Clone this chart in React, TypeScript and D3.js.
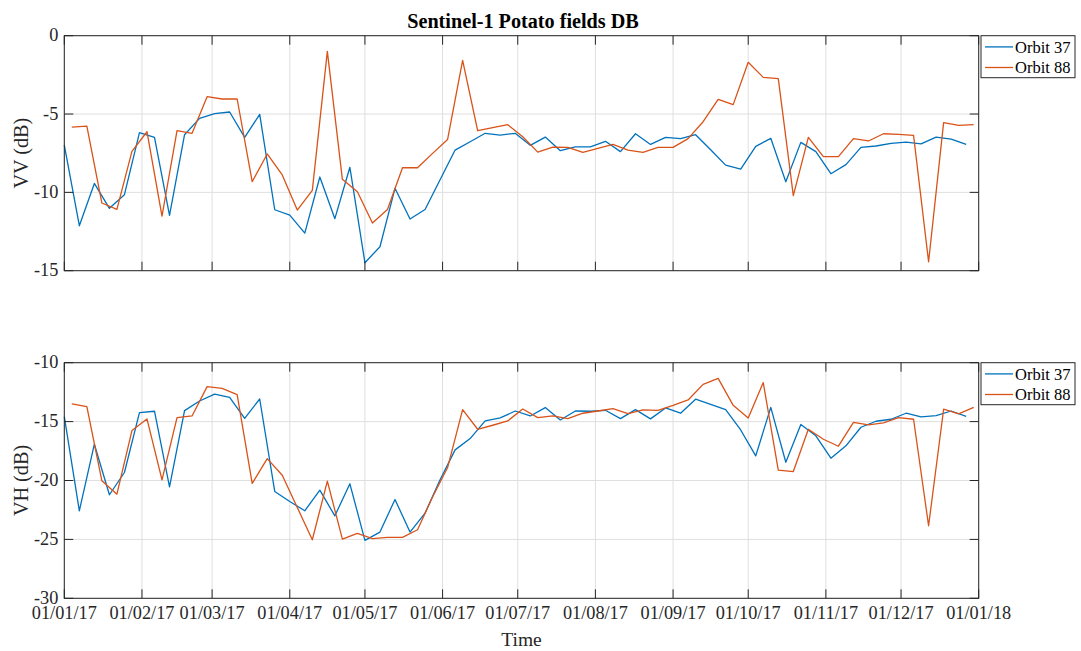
import { useRef, useEffect } from "react";
import * as d3 from "d3";

// time axis
const START = new Date(2017, 0, 1);
const END = new Date(2018, 0, 1);
const REVISIT = 6; // days between two passes
const FIRST_37 = new Date(2017, 0, 1);
const FIRST_88 = new Date(2017, 0, 4);

// VV backscatter (dB)
const vv37 = [
  -6.98, -12.13, -9.43, -11.02, -10.15, -6.19, -6.49, -11.47, -6.32, -5.28,
  -4.98, -4.87, -6.49, -5.02, -11.11, -11.45, -12.6, -9.02, -11.68, -8.4,
  -14.49, -13.47, -9.74, -11.7, -11.09, -9.19, -7.3, -6.77, -6.23, -6.34,
  -6.23, -7.0, -6.47, -7.34, -7.09, -7.09, -6.74, -7.4, -6.26, -6.94,
  -6.49, -6.57, -6.32, -7.28, -8.26, -8.51, -7.06, -6.55, -9.32, -6.81,
  -7.4, -8.81, -8.23, -7.13, -7.04, -6.87, -6.79, -6.91, -6.47, -6.6,
  -6.94,
];
const vv88 = [
  -5.83, -5.77, -10.68, -11.09, -7.38, -6.13, -11.51, -6.06, -6.23, -3.89,
  -4.04, -4.04, -9.32, -7.55, -8.89, -11.13, -9.87, -1.0, -9.17, -9.96,
  -11.96, -11.09, -8.43, -8.43, -7.51, -6.62, -1.57, -6.06, -5.87, -5.68,
  -6.45, -7.43, -7.11, -7.13, -7.45, -7.19, -6.94, -7.3, -7.45, -7.13,
  -7.13, -6.57, -5.49, -4.06, -4.4, -1.7, -2.66, -2.74, -10.21, -6.49,
  -7.72, -7.72, -6.57, -6.72, -6.26, -6.3, -6.36, -14.43, -5.55, -5.72,
  -5.68,
];

// VH backscatter (dB)
const vh37 = [
  -14.58, -22.57, -16.92, -21.21, -19.32, -14.24, -14.12, -20.54, -14.07, -13.25,
  -12.66, -12.94, -14.72, -13.08, -20.93, -21.78, -22.57, -20.82, -23.0, -20.28,
  -25.08, -24.38, -21.61, -24.38, -22.77, -19.94, -17.4, -16.44, -14.94, -14.69,
  -14.1, -14.52, -13.81, -14.86, -14.1, -14.12, -14.04, -14.75, -13.98, -14.77,
  -13.84, -14.29, -13.1, -13.53, -13.98, -15.71, -17.91, -13.79, -18.45, -15.25,
  -16.21, -18.11, -17.06, -15.48, -14.97, -14.8, -14.29, -14.6, -14.49, -14.1,
  -14.55,
];
const vh88 = [
  -13.5, -13.73, -20.03, -21.16, -15.76, -14.77, -19.94, -14.66, -14.52, -12.03,
  -12.18, -12.71, -20.25, -18.14, -19.55, -22.29, -25.03, -20.06, -24.97, -24.49,
  -24.94, -24.83, -24.83, -24.18, -21.4, -18.9, -13.98, -15.65, -15.31, -14.94,
  -13.93, -14.66, -14.52, -14.75, -14.29, -14.1, -13.9, -14.32, -14.01, -14.04,
  -13.62, -13.16, -11.84, -11.33, -13.62, -14.69, -11.69, -19.12, -19.24, -15.65,
  -16.5, -17.09, -15.06, -15.28, -15.11, -14.66, -14.8, -23.84, -13.95, -14.35,
  -13.79,
];

const names = ["Orbit 37", "Orbit 88"];
const colors = ["#0072BD", "#D95319"];
const vvTicks = [-15, -10, -5, 0];
const vhTicks = [-30, -25, -20, -15, -10];

const FONT = "'Liberation Serif', 'Times New Roman', serif";
const AXIS = "#262626";

const toPoints = (first, values) =>
  values.map((v, i) => [d3.timeDay.offset(first, i * REVISIT), v]);

const App = () => {
  const svgRef = useRef(null);

  useEffect(() => {
    const svg = d3.select(svgRef.current);
    svg.selectAll("*").remove();

    const left = 64.3;
    const right = 978.7;
    const x = d3.scaleTime().domain([START, END]).range([left, right]);
    const xTicks = d3.timeMonth.range(START, d3.timeDay.offset(END, 1));
    const fmt = d3.timeFormat("%d/%m/%y");

    const panels = [
      { top: 35.7, bottom: 270.7, domain: [-15, 0], ticks: vvTicks, label: "VV (dB)",
        series: [toPoints(FIRST_37, vv37), toPoints(FIRST_88, vv88)], xLabels: false },
      { top: 362.7, bottom: 598.3, domain: [-30, -10], ticks: vhTicks, label: "VH (dB)",
        series: [toPoints(FIRST_37, vh37), toPoints(FIRST_88, vh88)], xLabels: true },
    ];

    panels.forEach((p) => {
      const y = d3.scaleLinear().domain(p.domain).range([p.bottom, p.top]);
      const g = svg.append("g");

      g.append("rect")
        .attr("x", left).attr("y", p.top)
        .attr("width", right - left).attr("height", p.bottom - p.top)
        .attr("fill", "white");

      // grid
      g.selectAll(".gx").data(xTicks).join("line")
        .attr("x1", (d) => x(d)).attr("x2", (d) => x(d))
        .attr("y1", p.top).attr("y2", p.bottom)
        .attr("stroke", "#dfdfdf").attr("stroke-width", 1);
      g.selectAll(".gy").data(p.ticks).join("line")
        .attr("x1", left).attr("x2", right)
        .attr("y1", (d) => y(d)).attr("y2", (d) => y(d))
        .attr("stroke", "#dfdfdf").attr("stroke-width", 1);

      // data lines
      const line = d3.line()
        .x((d) => x(d[0]))
        .y((d) => y(d[1]));
      p.series.forEach((s, i) => {
        g.append("path")
          .datum(s)
          .attr("fill", "none")
          .attr("stroke", colors[i])
          .attr("stroke-width", 1.3)
          .attr("stroke-linejoin", "round")
          .attr("d", line);
      });

      // box + inward ticks
      g.append("rect")
        .attr("x", left).attr("y", p.top)
        .attr("width", right - left).attr("height", p.bottom - p.top)
        .attr("fill", "none").attr("stroke", AXIS).attr("stroke-width", 1);
      const tl = 9;
      xTicks.forEach((d) => {
        g.append("line").attr("x1", x(d)).attr("x2", x(d))
          .attr("y1", p.bottom).attr("y2", p.bottom - tl).attr("stroke", AXIS);
        g.append("line").attr("x1", x(d)).attr("x2", x(d))
          .attr("y1", p.top).attr("y2", p.top + tl).attr("stroke", AXIS);
      });
      p.ticks.forEach((d) => {
        g.append("line").attr("x1", left).attr("x2", left + tl)
          .attr("y1", y(d)).attr("y2", y(d)).attr("stroke", AXIS);
        g.append("line").attr("x1", right).attr("x2", right - tl)
          .attr("y1", y(d)).attr("y2", y(d)).attr("stroke", AXIS);
      });

      // tick labels
      g.selectAll(".yl").data(p.ticks).join("text")
        .attr("x", left - 6).attr("y", (d) => y(d)).attr("dy", "0.3em")
        .attr("text-anchor", "end")
        .attr("font-family", FONT).attr("font-size", 18.3).attr("fill", AXIS)
        .text((d) => d);
      if (p.xLabels) {
        g.selectAll(".xl").data(xTicks).join("text")
          .attr("x", (d) => x(d)).attr("y", p.bottom + 21)
          .attr("text-anchor", "middle")
          .attr("font-family", FONT).attr("font-size", 18.3).attr("fill", AXIS)
          .text((d) => fmt(d));
      }

      // y label
      g.append("text")
        .attr("transform", `translate(28, ${(p.top + p.bottom) / 2}) rotate(-90)`)
        .attr("text-anchor", "middle")
        .attr("font-family", FONT).attr("font-size", 20.2).attr("fill", AXIS)
        .text(p.label);

      // legend
      const lx = 981;
      const ly = p.top;
      const lg = g.append("g");
      lg.append("rect")
        .attr("x", lx).attr("y", ly).attr("width", 94).attr("height", 42)
        .attr("fill", "white").attr("stroke", AXIS).attr("stroke-width", 1);
      names.forEach((n, i) => {
        const cy = ly + 11.2 + i * 20.6;
        lg.append("line")
          .attr("x1", lx + 4).attr("x2", lx + 32)
          .attr("y1", cy).attr("y2", cy)
          .attr("stroke", colors[i]).attr("stroke-width", 1.3);
        lg.append("text")
          .attr("x", lx + 34).attr("y", cy).attr("dy", "0.34em")
          .attr("font-family", FONT).attr("font-size", 16.5).attr("fill", "#000")
          .text(n);
      });
    });

    svg.append("text")
      .attr("x", (left + right) / 2 + 1.5).attr("y", 28)
      .attr("text-anchor", "middle")
      .attr("font-family", FONT).attr("font-size", 20.2).attr("font-weight", "bold")
      .attr("fill", "#000")
      .text("Sentinel-1 Potato fields DB");

    svg.append("text")
      .attr("x", (left + right) / 2).attr("y", 646)
      .attr("text-anchor", "middle")
      .attr("font-family", FONT).attr("font-size", 19.5).attr("fill", AXIS)
      .text("Time");
  }, []);

  return (
    <svg
      ref={svgRef}
      width={1081}
      height={651}
      style={{ position: "absolute", left: 0, top: 0, background: "white" }}
    ></svg>
  );
};

export default App;
